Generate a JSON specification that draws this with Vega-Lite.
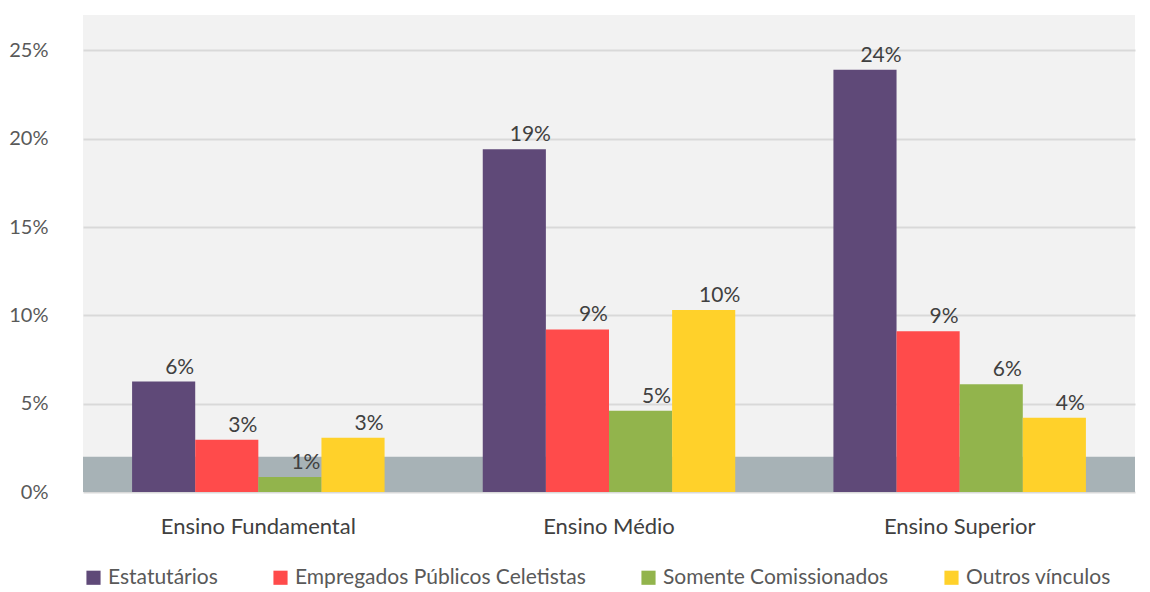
{
  "$schema": "https://vega.github.io/schema/vega-lite/v6.json",
  "width": 1150,
  "height": 592,
  "autosize": {"type": "fit", "contains": "padding"},
  "padding": {"left": 8, "top": 15, "right": 15, "bottom": 4},
  "background": "white",
  "config": {
    "font": "Lato",
    "view": {"fill": "#f2f2f2", "stroke": null},
    "axis": {"labelFont": "Lato", "labelColor": "#595959", "labelFontSize": 20, "domain": false, "ticks": false},
    "axisY": {"grid": true, "gridColor": "#d9d9d9", "gridWidth": 2},
    "legend": {"labelFont": "Lato", "labelColor": "#595959", "labelFontSize": 21}
  },
  "data": {
    "values": [
      {"nivel": "Ensino Fundamental", "vinculo": "Estatutários", "valor": 0.0625},
      {"nivel": "Ensino Fundamental", "vinculo": "Empregados Públicos Celetistas", "valor": 0.0296},
      {"nivel": "Ensino Fundamental", "vinculo": "Somente Comissionados", "valor": 0.0085},
      {"nivel": "Ensino Fundamental", "vinculo": "Outros vínculos", "valor": 0.0307},
      {"nivel": "Ensino Médio", "vinculo": "Estatutários", "valor": 0.194},
      {"nivel": "Ensino Médio", "vinculo": "Empregados Públicos Celetistas", "valor": 0.092},
      {"nivel": "Ensino Médio", "vinculo": "Somente Comissionados", "valor": 0.046},
      {"nivel": "Ensino Médio", "vinculo": "Outros vínculos", "valor": 0.103},
      {"nivel": "Ensino Superior", "vinculo": "Estatutários", "valor": 0.239},
      {"nivel": "Ensino Superior", "vinculo": "Empregados Públicos Celetistas", "valor": 0.091},
      {"nivel": "Ensino Superior", "vinculo": "Somente Comissionados", "valor": 0.061},
      {"nivel": "Ensino Superior", "vinculo": "Outros vínculos", "valor": 0.042}
    ]
  },
  "layer": [
    {
      "data": {"values": [{"piso": 0, "piso2": 0.02}]},
      "mark": {"type": "rect", "color": "#a7b2b6"},
      "encoding": {
        "x": {"value": 0},
        "x2": {"value": "width"},
        "y": {"field": "piso", "type": "quantitative", "scale": {"domain": [0, 0.27], "nice": false},
          "axis": {"title": null, "format": ".0%", "values": [0, 0.05, 0.1, 0.15, 0.2, 0.25], "labelPadding": 35}},
        "y2": {"field": "piso2"}
      }
    },
    {
      "mark": {"type": "bar"},
      "encoding": {
        "x": {
          "field": "nivel", "type": "nominal", "sort": null,
          "scale": {"paddingInner": 0.28, "paddingOuter": 0.14},
          "axis": {"title": null, "labelAngle": 0, "labelPadding": 24, "labelColor": "#404040", "labelFontSize": 22, "labelLimit": 400, "grid": false}
        },
        "xOffset": {"field": "vinculo", "type": "nominal", "sort": null},
        "y": {"field": "valor", "type": "quantitative"},
        "color": {
          "field": "vinculo", "type": "nominal", "sort": null,
          "scale": {
            "domain": ["Estatutários", "Empregados Públicos Celetistas", "Somente Comissionados", "Outros vínculos"],
            "range": ["#5f4978", "#ff4b4b", "#92b44c", "#ffd12a"]
          },
          "legend": {"title": null, "orient": "bottom", "direction": "horizontal", "symbolType": "square", "symbolSize": 200, "symbolStrokeWidth": 0, "columnPadding": 52, "offset": 30, "labelLimit": 400}
        }
      }
    },
    {
      "mark": {"type": "text", "baseline": "bottom", "dy": -4, "dx": 16, "fontSize": 21, "color": "#404040", "font": "Lato"},
      "encoding": {
        "x": {"field": "nivel", "type": "nominal", "sort": null},
        "xOffset": {"field": "vinculo", "type": "nominal", "sort": null},
        "y": {"field": "valor", "type": "quantitative"},
        "text": {"field": "valor", "type": "quantitative", "format": ".0%"}
      }
    }
  ]
}
